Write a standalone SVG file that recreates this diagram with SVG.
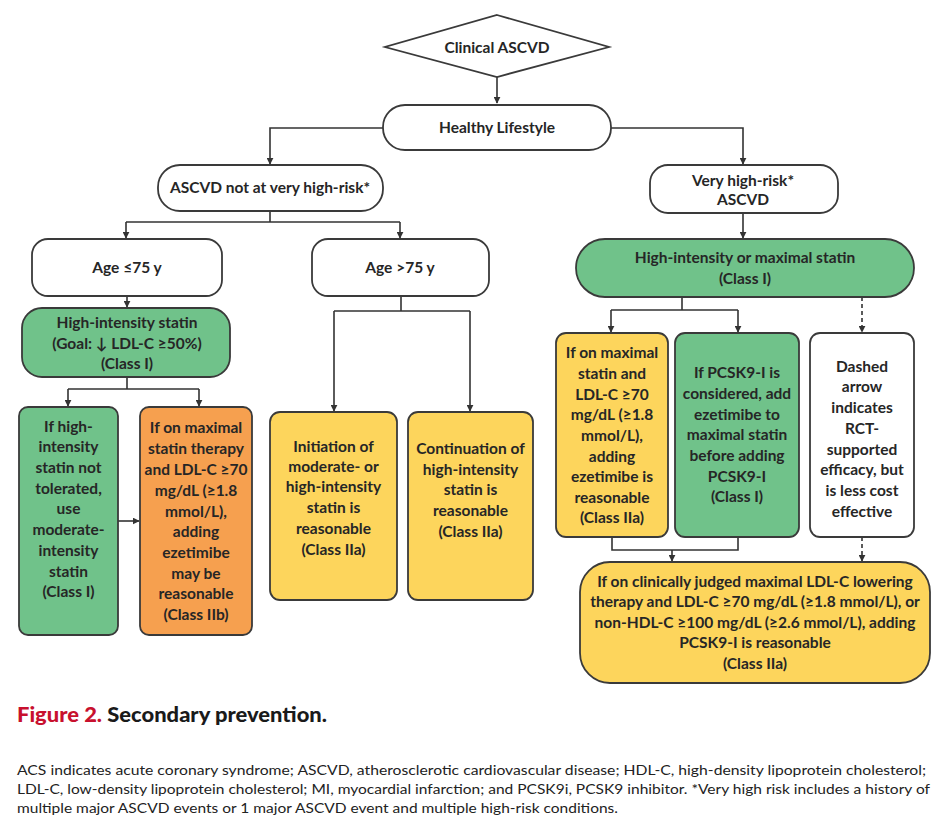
<svg xmlns="http://www.w3.org/2000/svg" width="948" height="828" viewBox="0 0 948 828">
<defs>
<marker id="ah" viewBox="0 0 10 10" refX="9" refY="5" markerWidth="7" markerHeight="7" markerUnits="userSpaceOnUse" orient="auto">
<path d="M0,0 L10,5 L0,10 z" fill="#333"/>
</marker>
</defs>
<style>
.box{stroke:#3a3a3a;stroke-width:1.8}
.w{fill:#ffffff}
.g{fill:#70c28a}
.o{fill:#f6a04f}
.y{fill:#fdd55c}
.t{font-family:Lato,"Open Sans","Liberation Sans",sans-serif;font-weight:bold;font-size:15.5px;fill:#262626;text-anchor:middle}
.c{fill:none;stroke:#333;stroke-width:1.6}
.d{stroke-dasharray:4,3}
.cap{font-family:Lato,"Open Sans","Liberation Sans",sans-serif;font-weight:900;font-size:21px}
.leg{font-family:Lato,"Open Sans","Liberation Sans",sans-serif;font-size:14px;fill:#222}
</style>
<rect width="948" height="828" fill="#ffffff"/>

<g id="connectors">
<path class="c" d="M497,77 V103" marker-end="url(#ah)"/>
<path class="c" d="M383,128 H270 V164" marker-end="url(#ah)"/>
<path class="c" d="M611,128 H743 V164" marker-end="url(#ah)"/>
<path class="c" d="M270,211 V222 M126,222 H400"/>
<path class="c" d="M126,222 V238" marker-end="url(#ah)"/>
<path class="c" d="M400,222 V238" marker-end="url(#ah)"/>
<path class="c" d="M743,213 V238" marker-end="url(#ah)"/>
<path class="c" d="M127,296 V307" marker-end="url(#ah)"/>
<path class="c" d="M127,377 V389 M68,389 H199"/>
<path class="c" d="M68,389 V406" marker-end="url(#ah)"/>
<path class="c" d="M199,389 V406" marker-end="url(#ah)"/>
<path class="c" d="M118,521 H139" marker-end="url(#ah)"/>
<path class="c" d="M401,296 V311 M334,311 H470"/>
<path class="c" d="M334,311 V411" marker-end="url(#ah)"/>
<path class="c" d="M470,311 V411" marker-end="url(#ah)"/>
<path class="c" d="M682,297 V310 M611,310 H738"/>
<path class="c" d="M611,310 V332" marker-end="url(#ah)"/>
<path class="c" d="M738,310 V332" marker-end="url(#ah)"/>
<path class="c d" d="M862,297 V332" marker-end="url(#ah)"/>
<path class="c" d="M612,537 V550 H738 V537"/>
<path class="c" d="M672,550 V561" marker-end="url(#ah)"/>
<path class="c d" d="M862,537 V561" marker-end="url(#ah)"/>
</g>

<g id="clinical-ascvd">
<polygon class="box w" points="497,15 609,47 497,77 385,47"/>
<text class="t" x="497" y="53" font-size="17">Clinical ASCVD</text>
</g>

<g id="healthy-lifestyle">
<rect class="box w" x="383" y="105" width="228" height="45" rx="22"/>
<text class="t" x="497" y="133">Healthy Lifestyle</text>
</g>

<g id="ascvd-not-very-high">
<rect class="box w" x="158" y="165" width="225" height="46" rx="22"/>
<text class="t" x="270" y="193">ASCVD not at very high-risk*</text>
</g>

<g id="very-high-risk">
<rect class="box w" x="650" y="165" width="188" height="48" rx="18"/>
<text class="t" x="743" y="186">Very high-risk*</text>
<text class="t" x="743" y="205">ASCVD</text>
</g>

<g id="age-le75">
<rect class="box w" x="32" y="239" width="190" height="57" rx="16"/>
<text class="t" x="127" y="273">Age ≤75 y</text>
</g>

<g id="age-gt75">
<rect class="box w" x="312" y="239" width="177" height="57" rx="16"/>
<text class="t" x="400" y="273">Age &gt;75 y</text>
</g>

<g id="high-intensity-maximal">
<rect class="box g" x="576" y="239" width="338" height="58" rx="29"/>
<text class="t" x="745" y="263">High-intensity or maximal statin</text>
<text class="t" x="745" y="284">(Class I)</text>
</g>

<g id="high-intensity-statin">
<rect class="box g" x="22" y="308" width="208" height="69" rx="20"/>
<text class="t" x="127" y="328">High-intensity statin</text>
<text class="t" x="127" y="349">(Goal: ↓ LDL-C ≥50%)</text>
<text class="t" x="127" y="369">(Class I)</text>
</g>

<g id="not-tolerated">
<rect class="box g" x="19" y="407" width="99" height="228" rx="9"/>
<text class="t" x="68.5" y="432">If high-</text>
<text class="t" x="68.5" y="452">intensity</text>
<text class="t" x="68.5" y="473">statin not</text>
<text class="t" x="68.5" y="494">tolerated,</text>
<text class="t" x="68.5" y="514">use</text>
<text class="t" x="68.5" y="535">moderate-</text>
<text class="t" x="68.5" y="556">intensity</text>
<text class="t" x="68.5" y="577">statin</text>
<text class="t" x="68.5" y="597">(Class I)</text>
</g>

<g id="ezetimibe-iib">
<rect class="box o" x="140" y="407" width="112" height="228" rx="9"/>
<text class="t" x="196" y="433">If on maximal</text>
<text class="t" x="196" y="454">statin therapy</text>
<text class="t" x="196" y="475">and LDL-C ≥70</text>
<text class="t" x="196" y="496">mg/dL (≥1.8</text>
<text class="t" x="196" y="517">mmol/L),</text>
<text class="t" x="196" y="537">adding</text>
<text class="t" x="196" y="558">ezetimibe</text>
<text class="t" x="196" y="579">may be</text>
<text class="t" x="196" y="599">reasonable</text>
<text class="t" x="196" y="620">(Class IIb)</text>
</g>

<g id="initiation">
<rect class="box y" x="270" y="412" width="127" height="188" rx="10"/>
<text class="t" x="333.5" y="452">Initiation of</text>
<text class="t" x="333.5" y="472">moderate- or</text>
<text class="t" x="333.5" y="492">high-intensity</text>
<text class="t" x="333.5" y="513">statin is</text>
<text class="t" x="333.5" y="534">reasonable</text>
<text class="t" x="333.5" y="555">(Class IIa)</text>
</g>

<g id="continuation">
<rect class="box y" x="408" y="412" width="125" height="188" rx="10"/>
<text class="t" x="470.5" y="454">Continuation of</text>
<text class="t" x="470.5" y="475">high-intensity</text>
<text class="t" x="470.5" y="495">statin is</text>
<text class="t" x="470.5" y="516">reasonable</text>
<text class="t" x="470.5" y="537">(Class IIa)</text>
</g>

<g id="ezetimibe-iia">
<rect class="box y" x="556" y="333" width="112" height="204" rx="10"/>
<text class="t" x="612" y="358">If on maximal</text>
<text class="t" x="612" y="379">statin and</text>
<text class="t" x="612" y="400">LDL-C ≥70</text>
<text class="t" x="612" y="420">mg/dL (≥1.8</text>
<text class="t" x="612" y="441">mmol/L),</text>
<text class="t" x="612" y="462">adding</text>
<text class="t" x="612" y="482">ezetimibe is</text>
<text class="t" x="612" y="503">reasonable</text>
<text class="t" x="612" y="523">(Class IIa)</text>
</g>

<g id="pcsk9-considered">
<rect class="box g" x="675" y="333" width="124" height="204" rx="10"/>
<text class="t" x="737" y="378">If PCSK9-I is</text>
<text class="t" x="737" y="399">considered, add</text>
<text class="t" x="737" y="420">ezetimibe to</text>
<text class="t" x="737" y="440">maximal statin</text>
<text class="t" x="737" y="461">before adding</text>
<text class="t" x="737" y="482">PCSK9-I</text>
<text class="t" x="737" y="502">(Class I)</text>
</g>

<g id="dashed-note">
<rect class="box w" x="810" y="333" width="104" height="204" rx="10"/>
<text class="t" x="862" y="372">Dashed</text>
<text class="t" x="862" y="392">arrow</text>
<text class="t" x="862" y="413">indicates</text>
<text class="t" x="862" y="434">RCT-</text>
<text class="t" x="862" y="455">supported</text>
<text class="t" x="862" y="475">efficacy, but</text>
<text class="t" x="862" y="496">is less cost</text>
<text class="t" x="862" y="517">effective</text>
</g>

<g id="pcsk9-reasonable">
<rect class="box y" x="580" y="562" width="350" height="121" rx="30"/>
<text class="t" x="755" y="587">If on clinically judged maximal LDL-C lowering</text>
<text class="t" x="755" y="607">therapy and LDL-C ≥70 mg/dL (≥1.8 mmol/L), or</text>
<text class="t" x="755" y="628">non-HDL-C ≥100 mg/dL (≥2.6 mmol/L), adding</text>
<text class="t" x="755" y="648">PCSK9-I is reasonable</text>
<text class="t" x="755" y="669">(Class IIa)</text>
</g>

<g id="caption">
<text class="cap" x="17" y="722" textLength="310" lengthAdjust="spacingAndGlyphs"><tspan fill="#c8102e">Figure 2.</tspan><tspan fill="#1a1a1a"> Secondary prevention.</tspan></text>
<text class="leg" x="17" y="775" textLength="909" lengthAdjust="spacingAndGlyphs">ACS indicates acute coronary syndrome; ASCVD, atherosclerotic cardiovascular disease; HDL-C, high-density lipoprotein cholesterol;</text>
<text class="leg" x="17" y="794" textLength="913" lengthAdjust="spacingAndGlyphs">LDL-C, low-density lipoprotein cholesterol; MI, myocardial infarction; and PCSK9i, PCSK9 inhibitor. *Very high risk includes a history of</text>
<text class="leg" x="17" y="813" textLength="601" lengthAdjust="spacingAndGlyphs">multiple major ASCVD events or 1 major ASCVD event and multiple high-risk conditions.</text>
</g>
</svg>
